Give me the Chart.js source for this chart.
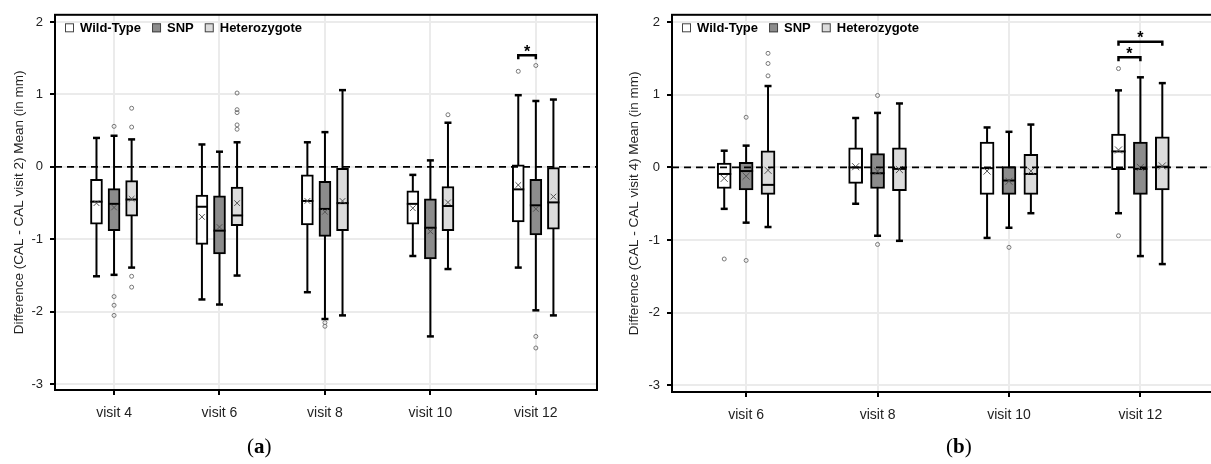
<!DOCTYPE html>
<html><head><meta charset="utf-8">
<script src="https://cdn.jsdelivr.net/npm/chart.js@4.4.1/dist/chart.umd.min.js"></script>
<style>
html,body{margin:0;padding:0;background:#fff;overflow:hidden;width:1211px;height:464px;position:relative}
#ca{position:absolute;left:0;top:0}
#cb{position:absolute;left:610px;top:0}
.lab{position:absolute;font-family:'Liberation Serif','DejaVu Serif',serif;font-size:21px;top:434px;color:#000}
</style></head><body>
<canvas id="ca" width="610" height="464"></canvas>
<canvas id="cb" width="612" height="464"></canvas>
<div class="lab" style="left:247px">(<b>a</b>)</div>
<div class="lab" style="left:946px">(<b>b</b>)</div>
<script>
const genotypes = ['Wild-Type', 'SNP', 'Heterozygote'];
const yTicks = [-3, -2, -1, 0, 1, 2];

// ---- Panel (a): CAL - CAL visit 2 ----
const catsA = ['visit 4', 'visit 6', 'visit 8', 'visit 10', 'visit 12'];
// each entry: [lower whisker, Q1, median, Q3, upper whisker]
const aWildType = [[-1.51,-0.79,-0.48,-0.17,0.40],[-1.83,-1.07,-0.55,-0.39,0.31],[-1.73,-0.80,-0.47,-0.11,0.34],[-1.23,-0.79,-0.51,-0.33,-0.11],[-1.39,-0.76,-0.31,0.03,0.99]];
const aSNP = [[-1.49,-0.88,-0.51,-0.30,0.43],[-1.90,-1.20,-0.88,-0.40,0.21],[-2.10,-0.96,-0.58,-0.20,0.48],[-2.34,-1.27,-0.84,-0.44,0.09],[-1.98,-0.94,-0.53,-0.17,0.91]];
const aHetero = [[-1.39,-0.68,-0.45,-0.19,0.38],[-1.50,-0.81,-0.67,-0.28,0.34],[-2.05,-0.88,-0.50,-0.02,1.06],[-1.41,-0.88,-0.54,-0.27,0.61],[-2.05,-0.86,-0.49,-0.01,0.93]];
const aWildTypeMean = [-0.50,-0.69,-0.47,-0.57,-0.25];
const aSNPMean = [-0.56,-0.83,-0.62,-0.89,-0.58];
const aHeteroMean = [-0.44,-0.50,-0.47,-0.49,-0.41];
const aWildTypeOut = [[],[],[],[],[1.32]];
const aSNPOut = [[0.56,-1.79,-1.91,-2.05],[],[-2.15,-2.20],[],[1.40,-2.34,-2.50]];
const aHeteroOut = [[0.81,0.55,-1.51,-1.66],[1.02,0.79,0.75,0.58,0.52],[],[0.72],[]];
// significance: [category index, from group, to group, y]
const aSig = [[4, 0, 1, 1.54]];

// ---- Panel (b): CAL - CAL visit 4 ----
const catsB = ['visit 6', 'visit 8', 'visit 10', 'visit 12'];
const bWildType = [[-0.57,-0.29,-0.09,0.06,0.23],[-0.50,-0.22,0.00,0.27,0.68],[-0.97,-0.37,-0.01,0.35,0.55],[-0.63,-0.03,0.22,0.46,1.06]];
const bSNP = [[-0.76,-0.31,-0.05,0.07,0.30],[-0.94,-0.29,-0.08,0.19,0.75],[-0.83,-0.37,-0.18,0.01,0.49],[-1.22,-0.37,-0.02,0.35,1.24]];
const bHetero = [[-0.82,-0.37,-0.24,0.23,1.12],[-1.01,-0.32,-0.02,0.27,0.88],[-0.63,-0.37,-0.09,0.18,0.59],[-1.33,-0.31,0.01,0.42,1.16]];
const bWildTypeMean = [-0.15,0.01,-0.05,0.24];
const bSNPMean = [-0.12,-0.05,-0.19,0.00];
const bHeteroMean = [-0.04,-0.03,-0.05,0.02];
const bWildTypeOut = [[-1.26],[],[],[1.36,-0.94]];
const bSNPOut = [[0.69,-1.28],[0.99,-1.06],[-1.10],[]];
const bHeteroOut = [[1.57,1.43,1.26],[],[],[]];
const bSig = [[3, 0, 1, 1.515], [3, 0, 2, 1.73]];

Chart.defaults.font.family = "'Liberation Sans', Arial, sans-serif";
const fills = ['#ffffff', '#8c8c8c', '#dcdcdc'];
const offs = [-1/6, 0, 1/6];

function makeChart(id, cats, summaries, means, outs, sig, opt) {
  const datasets = [];
  summaries.forEach((s, g) => datasets.push({
    type: 'bar', label: genotypes[g],
    data: s.map((v, i) => ({x: i + offs[g], y: [v[1], v[3]]})),
    backgroundColor: fills[g], borderColor: '#000', borderWidth: 2, borderSkipped: false,
    barThickness: opt.bw, grouped: false, order: 2
  }));
  means.forEach((m, g) => datasets.push({
    type: 'scatter', label: 'mean' + g,
    data: m.map((v, i) => ({x: i + offs[g], y: v})),
    pointStyle: 'crossRot', radius: opt.xr, borderColor: '#555', borderWidth: 1, backgroundColor: 'rgba(0,0,0,0)', order: 0
  }));
  outs.forEach((o, g) => datasets.push({
    type: 'scatter', label: 'out' + g,
    data: o.flatMap((arr, i) => arr.map(v => ({x: i + offs[g], y: v}))),
    pointStyle: 'circle', radius: 2, borderColor: '#777', borderWidth: 1, backgroundColor: 'rgba(0,0,0,0)', order: 0
  }));

  const boxPlugin = {
    id: 'boxParts',
    beforeDatasetsDraw(chart) {
      const {ctx, scales: {x, y}} = chart;
      ctx.save();
      ctx.strokeStyle = '#000';
      summaries.forEach((s, g) => s.forEach((v, i) => {
        const px = x.getPixelForValue(i + offs[g]);
        ctx.lineWidth = 2;
        ctx.beginPath();
        ctx.moveTo(px, y.getPixelForValue(v[0]));
        ctx.lineTo(px, y.getPixelForValue(v[4]));
        ctx.stroke();
        ctx.lineWidth = 2.5;
        [v[0], v[4]].forEach(w => {
          const py = y.getPixelForValue(w);
          ctx.beginPath(); ctx.moveTo(px - 3.5, py); ctx.lineTo(px + 3.5, py); ctx.stroke();
        });
      }));
      ctx.restore();
    },
    afterDatasetDraw(chart, args) {
      if (args.index > 2) return;
      const {ctx, scales: {x, y}} = chart;
      const s = summaries[args.index];
      ctx.save();
      ctx.strokeStyle = '#000'; ctx.lineWidth = 2;
      s.forEach((v, i) => {
        const px = x.getPixelForValue(i + offs[args.index]);
        const py = y.getPixelForValue(v[2]);
        ctx.beginPath(); ctx.moveTo(px - opt.bw / 2, py); ctx.lineTo(px + opt.bw / 2, py); ctx.stroke();
      });
      ctx.restore();
    },
    afterDatasetsDraw(chart) {
      const {ctx, chartArea: a, scales: {x, y}} = chart;
      ctx.save();
      ctx.strokeStyle = '#000'; ctx.lineWidth = 1.8; ctx.setLineDash([7, 5]);
      const y0 = y.getPixelForValue(0);
      ctx.beginPath(); ctx.moveTo(a.left, y0); ctx.lineTo(a.right, y0); ctx.stroke();
      ctx.setLineDash([]);
      ctx.lineWidth = 2.5;
      ctx.font = 'bold 16px "Liberation Sans", Arial, sans-serif';
      ctx.textAlign = 'center'; ctx.textBaseline = 'middle'; ctx.fillStyle = '#000';
      sig.forEach(([c, f, t, v]) => {
        const x1 = x.getPixelForValue(c + offs[f]), x2 = x.getPixelForValue(c + offs[t]);
        const py = y.getPixelForValue(v);
        ctx.beginPath(); ctx.moveTo(x1, py + 4); ctx.lineTo(x1, py); ctx.lineTo(x2, py); ctx.lineTo(x2, py + 4); ctx.stroke();
        ctx.fillText('*', (x1 + x2) / 2, py - 3);
      });
      ctx.restore();
    },
    afterDraw(chart) {
      const {ctx, chartArea: a} = chart;
      ctx.save();
      ctx.strokeStyle = '#000'; ctx.lineWidth = 2;
      ctx.strokeRect(a.left, a.top, a.right - a.left, a.bottom - a.top);
      ctx.font = 'bold 13px "Liberation Sans", Arial, sans-serif';
      ctx.textBaseline = 'middle'; ctx.textAlign = 'left';
      let lx = a.left + 10;
      const ly = a.top + 13;
      genotypes.forEach((name, g) => {
        ctx.fillStyle = fills[g];
        ctx.fillRect(lx, ly - 4.5, 9, 9);
        ctx.lineWidth = 1; ctx.strokeStyle = '#444';
        ctx.strokeRect(lx + 0.5, ly - 4, 8, 8);
        ctx.fillStyle = '#000';
        ctx.fillText(name, lx + 15, ly + 0.5);
        lx += 15 + ctx.measureText(name).width + 11;
      });
      ctx.restore();
    }
  };

  const gridCfg = {color: '#ebebeb', lineWidth: 2, tickColor: '#000', tickLength: 5, tickWidth: 2, offset: false};
  return new Chart(document.getElementById(id), {
    type: 'bar',
    data: {datasets},
    options: {
      responsive: false, animation: false, devicePixelRatio: 1,
      layout: {padding: {top: opt.pt, right: opt.pr, left: 0, bottom: 0}},
      plugins: {tooltip: {enabled: false}, legend: {display: false}},
      scales: {
        x: {
          type: 'linear', min: opt.xmin, max: opt.xmax, offset: false,
          afterBuildTicks: s => { s.ticks = cats.map((c, i) => ({value: i})); },
          afterFit: s => { s.height = opt.xh; },
          ticks: {callback: v => cats[Math.round(v)], font: {size: 14}, color: '#222', padding: 10, maxRotation: 0, autoSkip: false},
          grid: gridCfg, border: {display: false}
        },
        y: {
          min: opt.ymin, max: opt.ymax,
          afterBuildTicks: s => { s.ticks = yTicks.map(v => ({value: v})); },
          afterFit: s => { s.width = opt.yw; },
          ticks: {font: {size: 13}, color: '#222', padding: 7, autoSkip: false},
          grid: gridCfg, border: {display: false},
          title: {display: true, text: opt.title, font: {size: 13.5}, color: '#222', padding: {top: opt.tp, bottom: 0}}
        }
      }
    },
    plugins: [boxPlugin]
  });
}

makeChart('ca', catsA, [aWildType, aSNP, aHetero], [aWildTypeMean, aSNPMean, aHeteroMean],
  [aWildTypeOut, aSNPOut, aHeteroOut], aSig,
  {xmin: -0.56, xmax: 4.58, ymin: -3.08, ymax: 2.1, yw: 55, xh: 74, pt: 13, pr: 13, bw: 12, xr: 4, tp: 11.5,
   title: 'Difference (CAL - CAL visit 2) Mean (in mm)'});
makeChart('cb', catsB, [bWildType, bSNP, bHetero], [bWildTypeMean, bSNPMean, bHeteroMean],
  [bWildTypeOut, bSNPOut, bHeteroOut], bSig,
  {xmin: -0.564, xmax: 3.56, ymin: -3.09, ymax: 2.1, yw: 62, xh: 72, pt: 14, pr: 8, bw: 14, xr: 5, tp: 16,
   title: 'Difference (CAL - CAL visit 4) Mean (in mm)'});
</script>
</body></html>
